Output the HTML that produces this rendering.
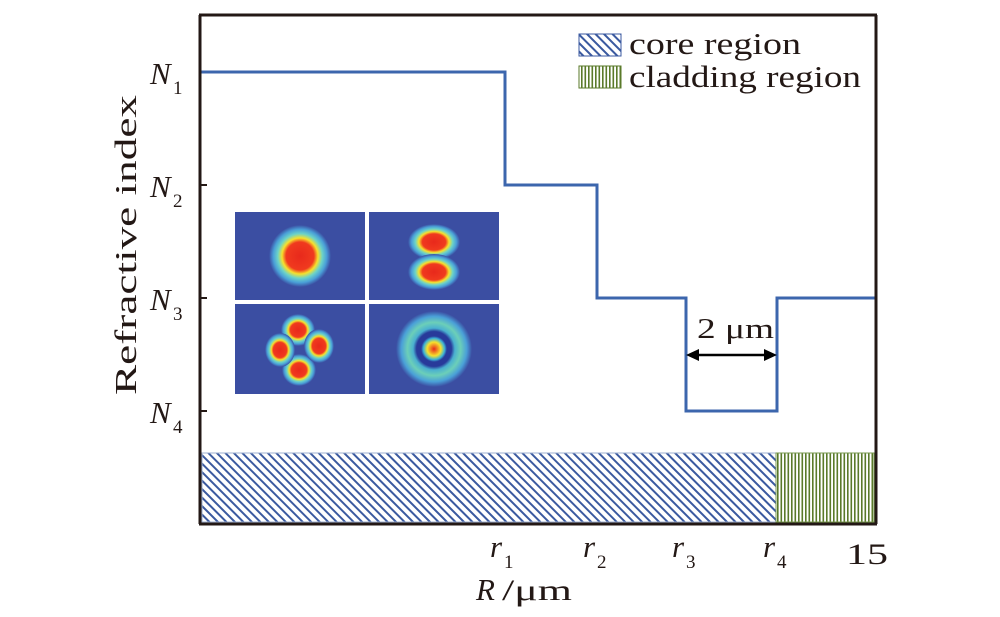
<!DOCTYPE html>
<html><head><style>html,body{margin:0;padding:0;background:#fff;}svg{display:block}</style></head>
<body>
<svg width="1000" height="617" viewBox="0 0 1000 617" xmlns="http://www.w3.org/2000/svg" font-family="Liberation Serif, serif">
<defs>
<pattern id="diag" patternUnits="userSpaceOnUse" width="6" height="6" patternTransform="rotate(-45)">
<rect width="6" height="6" fill="#fff"/><rect x="0" y="0" width="2" height="6" fill="#3b5aa0"/>
</pattern>
<pattern id="vert" patternUnits="userSpaceOnUse" width="3.5" height="10">
<rect width="3.5" height="10" fill="#fff"/><rect x="0" y="0" width="1.6" height="10" fill="#5a7a2a"/>
</pattern>
<radialGradient id="g0"><stop offset="0" stop-color="#e8291c"/><stop offset="0.45" stop-color="#f03a1e"/><stop offset="0.58" stop-color="#f7e12c"/><stop offset="0.72" stop-color="#6cd3c8"/><stop offset="0.86" stop-color="#4aa0d8"/><stop offset="1" stop-color="#3b4ea2"/></radialGradient>
<radialGradient id="ring"><stop offset="0" stop-color="#e8291c"/><stop offset="0.18" stop-color="#f7e12c"/><stop offset="0.28" stop-color="#3bb3d8"/><stop offset="0.34" stop-color="#283a9a"/><stop offset="0.46" stop-color="#283a9a"/><stop offset="0.55" stop-color="#4ab0d0"/><stop offset="0.7" stop-color="#6ccfb8"/><stop offset="0.86" stop-color="#4aa0d8"/><stop offset="1" stop-color="#3b4ea2"/></radialGradient>
</defs>
<rect x="202" y="453" width="574" height="69" fill="url(#diag)"/>
<rect x="776" y="453" width="98" height="69" fill="url(#vert)"/>
<rect x="202" y="453" width="574" height="69" fill="none" stroke="#9fb0d0" stroke-width="1"/>
<rect x="776" y="453" width="98" height="69" fill="none" stroke="#7a9a50" stroke-width="1"/>
<polyline points="201,72 505,72 505,185 597,185 597,298 686,298 686,411 777,411 777,298 875,298" fill="none" stroke="#3c66ad" stroke-width="3"/>
<line x1="200" y1="15" x2="200" y2="524" stroke="#231815" stroke-width="3"/>
<line x1="876" y1="15" x2="876" y2="524" stroke="#231815" stroke-width="3"/>
<line x1="199" y1="15" x2="877" y2="15" stroke="#231815" stroke-width="3"/>
<line x1="199" y1="524" x2="877" y2="524" stroke="#231815" stroke-width="3"/>
<line x1="200" y1="185" x2="207" y2="185" stroke="#231815" stroke-width="2"/>
<line x1="200" y1="298" x2="207" y2="298" stroke="#231815" stroke-width="2"/>
<line x1="200" y1="411" x2="207" y2="411" stroke="#231815" stroke-width="2"/>
<!-- inset -->
<rect x="235" y="212" width="264" height="182" fill="#fff"/>
<rect x="235" y="212" width="130" height="88" fill="#3b4ea2"/>
<rect x="369" y="212" width="130" height="88" fill="#3b4ea2"/>
<rect x="235" y="304" width="130" height="90" fill="#3b4ea2"/>
<rect x="369" y="304" width="130" height="90" fill="#3b4ea2"/>
<circle cx="300" cy="256" r="31" fill="url(#g0)"/>
<ellipse cx="434" cy="242" rx="26" ry="18" fill="url(#g0)"/>
<ellipse cx="434" cy="272" rx="26" ry="18" fill="url(#g0)"/>
<ellipse cx="298" cy="330" rx="17" ry="16" fill="url(#g0)"/>
<ellipse cx="299" cy="370" rx="17" ry="16" fill="url(#g0)"/>
<ellipse cx="280" cy="350" rx="15" ry="17" fill="url(#g0)"/>
<ellipse cx="319" cy="346" rx="15" ry="17" fill="url(#g0)"/>
<circle cx="434" cy="349" r="38" fill="url(#ring)"/>
<!-- labels -->
<g font-style="italic" font-size="31" fill="#231815">
<text x="150" y="84">N</text><text x="150" y="197">N</text><text x="150" y="310">N</text><text x="150" y="423">N</text>
<text x="490" y="557">r</text><text x="583" y="557">r</text><text x="672" y="557">r</text><text x="763" y="557">r</text>
<text x="476" y="600">R</text>
</g>
<g font-size="19" fill="#231815">
<text x="173" y="94">1</text><text x="173" y="207">2</text><text x="173" y="320">3</text><text x="173" y="433">4</text>
<text x="504" y="568">1</text><text x="597" y="568">2</text><text x="686" y="568">3</text><text x="777" y="568">4</text>
</g>
<text x="846" y="564" font-size="30" fill="#231815" textLength="42" lengthAdjust="spacingAndGlyphs">15</text>
<text x="502" y="600" font-size="30" fill="#231815" textLength="70" lengthAdjust="spacingAndGlyphs">/μm</text>
<text transform="translate(136,245) rotate(-90)" text-anchor="middle" font-size="31" fill="#231815" textLength="300" lengthAdjust="spacingAndGlyphs">Refractive index</text>
<text x="697" y="338" font-size="28" fill="#231815" textLength="77" lengthAdjust="spacingAndGlyphs">2 μm</text>
<line x1="695" y1="355" x2="768" y2="355" stroke="#000" stroke-width="2.5"/>
<polygon points="686,355 699,349 699,361" fill="#000"/>
<polygon points="777,355 764,349 764,361" fill="#000"/>
<!-- legend -->
<rect x="579" y="34" width="42" height="22" fill="url(#diag)" stroke="#3b5aa0" stroke-width="1"/>
<rect x="579" y="66" width="42" height="22" fill="url(#vert)" stroke="#5a7a2a" stroke-width="1"/>
<text x="629" y="54" font-size="31" fill="#231815" textLength="172" lengthAdjust="spacingAndGlyphs">core region</text>
<text x="629" y="87" font-size="31" fill="#231815" textLength="232" lengthAdjust="spacingAndGlyphs">cladding region</text>
</svg>
</body></html>
